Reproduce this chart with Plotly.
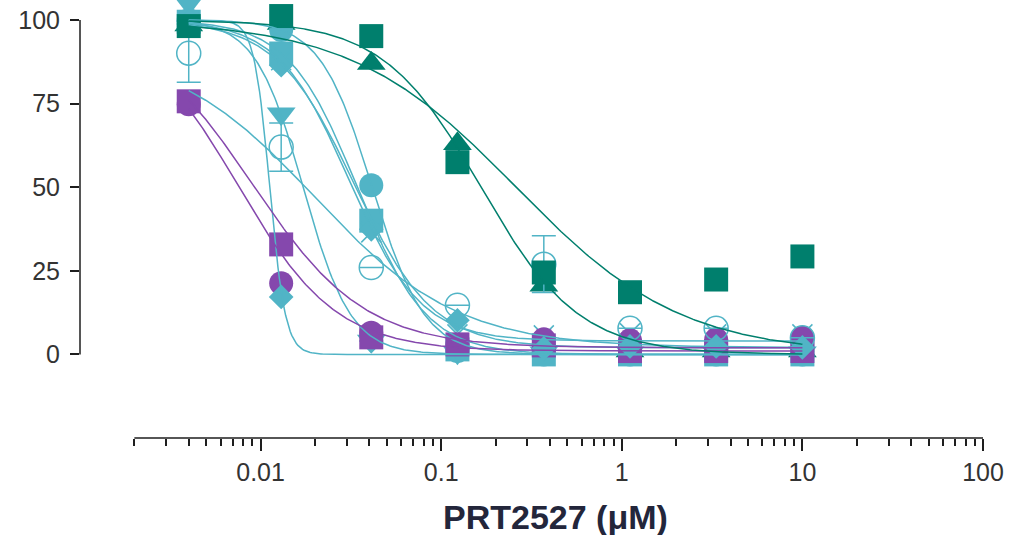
import numpy as np
import plotly.graph_objects as go

# ---------------- data ----------------
conc = [0.004, 0.0130, 0.041, 0.123, 0.37, 1.11, 3.33, 10]

dark_square = [98.2, 101.2, 95.2, 57.5, 24.5, 18.6, 22.4, 29.3]
dark_triangle = [98.5, 99.0, 87.0, 63.0, 20.7, 1.0, 1.0, 1.0]
lt_circle = [100.0, 97.0, 50.6, 1.0, 0.0, 0.0, 0.0, 0.0]
lt_square = [99.5, 90.0, 40.0, 1.5, 0.0, 0.0, 0.0, 0.0]
lt_invtri = [105.0, 72.0, 4.0, 0.5, 0.5, 0.5, 0.5, 0.5]
lt_x = [99.0, 88.0, 36.5, 6.0, 5.7, 6.3, 6.0, 6.0]
open_circle = [90.1, 62.0, 26.0, 14.7, 27.0, 7.8, 7.8, 5.0]
open_circle_sd = [8.7, 7.2, 0, 0, 8.5, 0, 0, 0]
purple_circle = [74.8, 21.3, 6.5, 3.0, 4.5, 4.2, 4.5, 5.0]
purple_square = [75.7, 32.9, 5.1, 3.0, 2.7, 1.0, 1.0, 1.0]
lt_diamond_a = [99.8, 17.2, 4.0, 2.0, 1.5, 1.0, 1.0, 1.0]
lt_diamond_b = [99.5, 86.5, 37.4, 10.2, 1.8, 2.4, 2.4, 2.1]

# 4PL fit parameters: top, bottom, IC50, hill
fit_dark_square = (100, 0, 0.26, 0.95)
fit_dark_triangle = (100, 0, 0.166, 1.6)
fit_lt_circle = (100, 0, 0.0415, 3.0)
fit_lt_square = (100, 0, 0.0343, 2.27)
fit_lt_invtri = (100, 0, 0.0172, 3.3)
fit_lt_x = (100, 4, 0.031, 2.2)
fit_open_circle = (92, 2, 0.02, 1.1)
fit_purple_circle = (100, 1, 0.0075, 1.6)
fit_purple_square = (100, 2, 0.009, 1.4)
fit_lt_diamond_a = (100, 0, 0.01124, 10)
fit_lt_diamond_b = (100, 2, 0.033, 2.0)

x_major = [0.01, 0.1, 1, 10, 100]
x_major_text = ["0.01", "0.1", "1", "10", "100"]
y_ticks = [0, 25, 50, 75, 100]
x_title = "PRT2527 (μM)"

# ---------------- style ----------------
DARK = "#007f6d"
LIGHT = "#51b4c6"
PURPLE = "#8548ad"
AXIS = "#1e1e1e"
FONT = "Liberation Sans, Arial, sans-serif"

fig = go.Figure()


def add_markers(vals, color, symbol, size, err=None, open_=False):
    marker = dict(color=color, symbol=symbol, size=size, line=dict(width=0))
    if open_:
        marker = dict(color=color, symbol=symbol, size=size, line=dict(width=1.5, color=color))
    kw = {}
    if err is not None:
        kw["error_y"] = dict(type="data", array=err, color=color, thickness=1.5, width=12)
    fig.add_trace(go.Scatter(x=conc, y=vals, mode="markers", marker=marker,
                             showlegend=False, hoverinfo="skip", **kw))


# marker draw order
add_markers(dark_triangle, DARK, "triangle-up", 25)
add_markers(lt_circle, LIGHT, "circle", 24)
add_markers(lt_invtri, LIGHT, "triangle-down", 25)
add_markers(lt_square, LIGHT, "square", 24)
add_markers(lt_x, LIGHT, "x-thin-open", 20, open_=True)
add_markers(purple_circle, PURPLE, "circle", 24)
add_markers(lt_diamond_a, LIGHT, "diamond", 19)
add_markers(purple_square, PURPLE, "square", 24)
add_markers(open_circle, LIGHT, "circle-open", 24, err=open_circle_sd, open_=True)
add_markers(lt_diamond_b, LIGHT, "diamond", 19)
add_markers(dark_square, DARK, "square", 24)

# fitted curves
xs = np.logspace(np.log10(conc[0]), np.log10(conc[-1]), 400)


def add_fit(p, color):
    top, bot, ic50, h = p
    ys = bot + (top - bot) / (1 + (xs / ic50) ** h)
    fig.add_trace(go.Scatter(x=xs, y=ys, mode="lines", line=dict(color=color, width=1.5),
                             showlegend=False, hoverinfo="skip"))


for p, c in [(fit_lt_circle, LIGHT), (fit_lt_square, LIGHT), (fit_lt_invtri, LIGHT),
             (fit_lt_x, LIGHT), (fit_open_circle, LIGHT), (fit_lt_diamond_a, LIGHT),
             (fit_lt_diamond_b, LIGHT), (fit_purple_circle, PURPLE),
             (fit_purple_square, PURPLE), (fit_dark_triangle, DARK),
             (fit_dark_square, DARK)]:
    add_fit(p, c)

x_minor = [m * 10.0 ** e for e in range(-3, 2) for m in range(2, 10) if m * 10.0 ** e >= 0.002]

XR = [-3, 2]
fig.update_layout(
    width=1032, height=535,
    margin=dict(l=80, r=49, t=0, b=97, autoexpand=False),
    paper_bgcolor="white", plot_bgcolor="white",
    xaxis=dict(type="log", range=XR, showgrid=False, zeroline=False, showline=False,
               automargin=False,
               tickvals=x_major, ticktext=x_major_text, ticks="outside", ticklen=12,
               tickwidth=1.5, tickcolor=AXIS,
               tickfont=dict(family=FONT, size=25, color="#333333"),
               minor=dict(tickvals=x_minor, ticks="outside", ticklen=7, tickwidth=1.5,
                          tickcolor=AXIS, showgrid=False)),
    yaxis=dict(range=[-25, 106], showgrid=False, zeroline=False, showline=False,
               automargin=False, ticklabelstandoff=5,
               tickvals=y_ticks, ticks="outside", ticklen=9, tickwidth=1.5, tickcolor=AXIS,
               tickfont=dict(family=FONT, size=25, color="#333333")),
    shapes=[
        dict(type="line", xref="paper", yref="paper",
             x0=(np.log10(0.002) - XR[0]) / (XR[1] - XR[0]), x1=1, y0=0, y1=0,
             line=dict(color=AXIS, width=1.5)),
        dict(type="line", xref="paper", yref="y", x0=0, x1=0, y0=0, y1=100,
             line=dict(color=AXIS, width=1.5)),
    ],
    annotations=[dict(text="<b>" + x_title + "</b>", xref="paper", yref="paper",
                      x=0.527, y=0, xanchor="center", yanchor="middle", yshift=-79,
                      showarrow=False, font=dict(family=FONT, size=34, color="#23263b"))],
)

fig.write_html("out.html", config={"displayModeBar": False},
               post_script="document.body.style.margin='0';document.body.style.overflow='hidden';")
